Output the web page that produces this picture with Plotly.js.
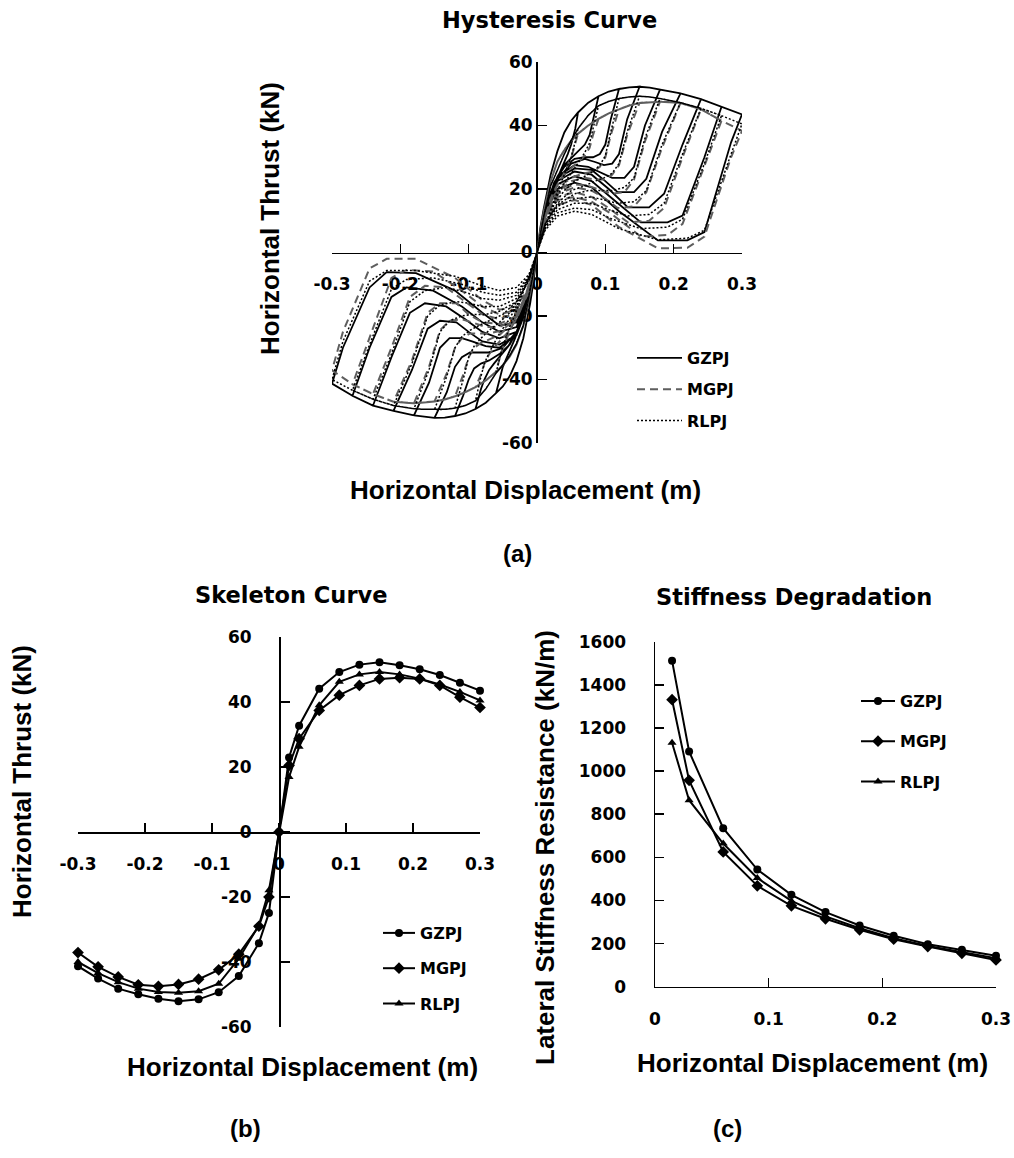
<!DOCTYPE html>
<html><head><meta charset="utf-8">
<script src="https://cdn.plot.ly/plotly-3.0.1.min.js"></script>
<style>html,body{margin:0;padding:0;background:#fff}#chart{width:1014px;height:1158px}</style>
</head><body><div id="chart"></div>
<script>
// ---------- series / labels ----------
const seriesNames = ['GZPJ', 'MGPJ', 'RLPJ'];

// ---------- skeleton curve (kN vs m) ----------
const skelX = [-0.30,-0.27,-0.24,-0.21,-0.18,-0.15,-0.12,-0.09,-0.06,-0.03,-0.015,0,0.015,0.03,0.06,0.09,0.12,0.15,0.18,0.21,0.24,0.27,0.30];
const gzpjSkel = [-41.3,-45.1,-48.2,-49.9,-51.3,-52.1,-51.5,-49.3,-44.3,-34.2,-24.9,0,22.9,32.7,44.1,49.2,51.5,52.2,51.3,50.1,48.3,45.9,43.5];
const mgpjSkel = [-37.1,-41.5,-44.6,-47.0,-47.5,-46.9,-45.3,-42.4,-37.6,-29.0,-20.0,0,20.5,28.7,37.4,42.1,45.1,47.1,47.5,47.1,45.1,41.5,38.3];
const rlpjSkel = [-40.0,-43.4,-46.2,-48.2,-49.2,-49.5,-49.0,-46.7,-39.0,-28.7,-17.9,0,16.9,26.2,39.0,46.2,48.5,49.2,48.5,47.2,45.4,43.1,40.5];

// ---------- stiffness degradation (kN/m) ----------
const stiffX = [0.015,0.03,0.06,0.09,0.12,0.15,0.18,0.21,0.24,0.27,0.30];
const gzpjStiff = [1512,1091,735,543,426,346,284,236,197,171,144];
const mgpjStiff = [1331,957,625,468,375,315,264,220,186,155,124];
const rlpjStiff = [1131,865,664,504,398,326,271,225,189,160,132];

// ---------- hysteresis: loading envelope (magnitude of displacement, m) ----------
const envX = [0,0.005,0.01,0.02,0.03,0.04,0.05,0.06,0.075,0.09,0.105,0.12,0.135,0.15,0.165,0.18,0.21,0.24,0.27,0.30];
const gzpjEnvPos = [0,8,14,24.5,32,37.8,41.5,44.1,47.2,49.2,50.7,51.5,52,52.2,51.9,51.3,50.1,48.3,45.9,43.5];
const gzpjEnvNeg = [0,-9,-16,-27,-34.2,-39,-42.2,-44.3,-47.3,-49.3,-50.7,-51.5,-52,-52.1,-51.8,-51.3,-49.9,-48.2,-45.1,-41.3];
const mgpjEnvPos = [0,7,13,22.5,28.7,32.3,35.2,37.4,40,42.1,43.8,45.1,46.3,47.1,47.4,47.5,47.1,45.1,41.5,38.3];
const mgpjEnvNeg = [0,-7,-13,-23,-29,-32.8,-35.5,-37.6,-40.3,-42.4,-44,-45.3,-46.3,-46.9,-47.3,-47.5,-47,-44.6,-41.5,-37.1];
const rlpjEnvPos = [0,6,11.5,21,26.2,31,35.3,39,43.2,46.2,47.6,48.5,49,49.2,49,48.5,47.2,45.4,43.1,40.5];
const rlpjEnvNeg = [0,-6,-12,-23,-28.7,-32.5,-35.5,-38,-43,-46.7,-48.2,-49,-49.4,-49.5,-49.4,-49.2,-48.2,-46.2,-43.4,-40];

// ---------- hysteresis: return branches ----------
// loop amplitudes (m); return path points listed from origin out to the amplitude
const loopAmps = [0.06,0.09,0.12,0.15,0.18,0.21,0.24,0.27,0.30];
const loopX = [
  [0,0.008,0.016,0.024,0.032,0.04,0.045,0.05,0.053,0.056,0.06],
  [0,0.01,0.02,0.03,0.042,0.055,0.063,0.07,0.077,0.082,0.09],
  [0,0.012,0.025,0.04,0.055,0.07,0.082,0.092,0.1,0.108,0.12],
  [0,0.012,0.03,0.05,0.07,0.085,0.098,0.11,0.12,0.132,0.15],
  [0,0.012,0.03,0.055,0.075,0.095,0.11,0.128,0.142,0.158,0.18],
  [0,0.012,0.03,0.055,0.08,0.1,0.118,0.142,0.16,0.183,0.21],
  [0,0.012,0.03,0.055,0.08,0.105,0.133,0.164,0.186,0.213,0.24],
  [0,0.012,0.03,0.055,0.08,0.11,0.152,0.191,0.213,0.245,0.27],
  [0,0.012,0.03,0.055,0.08,0.12,0.177,0.22,0.245,0.284,0.30]
];
const gzpjLoopPos = [
  [0,8,15,20.5,25,28.5,31,34,36.5,39,44.1],
  [0,11,19,24,28,31,32.5,34,37,41,49.2],
  [0,13,22,27,29.5,30,30,31,34,42,51.5],
  [0,14,23,28,29.5,28.5,27.5,28,31,42,52.2],
  [0,14.5,24,27.5,27,25,23.5,23.5,27,40,51.3],
  [0,14.5,23.5,26.5,26,22.5,19,19,23.2,38,50.1],
  [0,14,22.5,25.5,24.5,20,14.2,14.2,18.5,34,48.3],
  [0,13.5,21.5,24,22.5,17,9.5,9.5,11.6,30,45.9],
  [0,13,20,22,20.5,13,3.8,3.8,6.4,34.7,43.5]
];
const gzpjLoopNeg = [
  [0,-9,-16,-22,-27,-31,-33.5,-36,-38.5,-40.5,-44.3],
  [0,-12,-20,-25,-29.5,-33,-35,-37,-40,-43,-49.3],
  [0,-14,-23,-29,-32,-34,-35,-36.5,-40,-45,-51.5],
  [0,-15,-25,-30,-31.5,-31.5,-31.5,-33,-36,-44,-52.1],
  [0,-16,-26,-30,-29.5,-28,-27,-27,-30,-41,-51.3],
  [0,-16,-26,-29,-28,-25,-22,-21.5,-24,-37,-49.9],
  [0,-15,-25,-27,-25,-21,-17,-16,-19,-33,-48.2],
  [0,-14,-23.5,-25,-22,-17,-12,-11,-14,-30,-45.1],
  [0,-13,-22,-23,-19,-12,-6.5,-6.2,-11,-30,-41.3]
];
const mgpjLoopPos = [
  [0,8,14,18.5,22,25,27.5,30,32,34,37.4],
  [0,10,17,21.5,25,27.5,29,30.5,33,37,42.1],
  [0,11,18,22,24,25,25.5,27,30,37,45.1],
  [0,12,19,22.5,23.5,23,23,24.5,27.5,37,47.1],
  [0,12,19,21.5,21,19.5,18.5,19,23,35,47.5],
  [0,12,18.5,20.5,19.5,17,14,14.5,19,33,47.1],
  [0,11.5,17.5,19,17.5,14,9.5,10,14,30,45.1],
  [0,11,16.5,17.5,16,12,5,5.5,9,27,41.5],
  [0,10,15,16.5,15,8,1.3,1.5,5,30,38.3]
];
const mgpjLoopNeg = [
  [0,-7,-13,-17.5,-21.5,-25,-27.5,-30,-32,-34,-37.6],
  [0,-9,-16,-21,-25,-28,-30,-32,-35,-38.5,-42.4],
  [0,-11,-18.5,-23,-26,-27.5,-28.5,-30,-33,-38.5,-45.3],
  [0,-12,-20,-24.5,-25.5,-25.5,-25.5,-27,-30,-38,-46.9],
  [0,-12.5,-20.5,-23.5,-23.5,-22,-21,-21.5,-24.5,-36,-47.5],
  [0,-12.5,-20,-22.5,-22,-19.5,-16,-16,-19,-34,-47.0],
  [0,-12,-19,-21,-19.5,-15.5,-11,-10.5,-14,-30,-44.6],
  [0,-11.5,-18,-19.5,-17,-12,-6,-5.5,-8,-27,-41.5],
  [0,-11,-17,-18,-15,-8,-2,-2,-5,-25,-37.1]
];
const rlpjLoopPos = [
  [0,5.5,11,16,20.5,24.5,27.5,30,32.5,35,39],
  [0,7,13,18,22.5,26.5,29,31.5,34.5,39,46.2],
  [0,8.5,15,19.5,22.5,24,25.5,27.5,30.5,38,48.5],
  [0,9,15.5,19.5,21,22.5,23.5,25,28,38,49.2],
  [0,9,15,18.5,19.5,19.5,19.5,20.5,23.5,36,48.5],
  [0,8.5,14.5,17,17.5,16.5,15.5,16,19.5,34,47.2],
  [0,8,13.5,15.5,15.5,13.5,11.5,12,15.5,31,45.4],
  [0,7.5,12.5,14,13.5,10.5,7.5,8,10.5,28,43.1],
  [0,7,11.5,13,12,7.5,4,4.5,7,31,40.5]
];
const rlpjLoopNeg = [
  [0,-5,-10,-15,-19.5,-23.5,-26.5,-29.5,-32,-34.5,-38],
  [0,-6.5,-12,-17,-21.5,-25.5,-28.5,-31.5,-35,-39,-46.7],
  [0,-8,-14,-19,-22,-24.5,-27,-29.5,-33,-40,-49.0],
  [0,-9,-15.5,-19.5,-21.5,-23,-24.5,-26.5,-30,-39,-49.5],
  [0,-9,-15.5,-18.5,-19.5,-19.5,-20,-21.5,-25,-37,-49.2],
  [0,-8.5,-14.5,-17,-17,-16,-15.5,-16.5,-20,-35,-48.2],
  [0,-8,-13.5,-15,-14.5,-12.5,-11,-12,-15.5,-32,-46.2],
  [0,-7.5,-12.5,-13.5,-12.5,-10,-8,-8.5,-11.5,-29,-43.4],
  [0,-7,-11,-12,-10.5,-7.5,-5.7,-5.7,-9,-28,-40.0]
];

// ---------- tick labels ----------
const dispTicks = [-0.3,-0.2,-0.1,0,0.1,0.2,0.3];
const dispTickText = ['-0.3','-0.2','-0.1','0','0.1','0.2','0.3'];
const thrustTicks = [-60,-40,-20,0,20,40,60];
const thrustTickText = ['-60','-40','-20','0','20','40','60'];
const stiffXTicks = [0,0.1,0.2,0.3];
const stiffXTickText = ['0','0.1','0.2','0.3'];
const stiffYTicks = [0,200,400,600,800,1000,1200,1400,1600];
const stiffYTickText = ['0','200','400','600','800','1000','1200','1400','1600'];

// ---------- build hysteresis path: envelope out to each amplitude, return branch back ----------
function buildHyst(envPos, envNeg, pos, neg) {
  const xs = [], ys = [];
  for (let k = 0; k < loopAmps.length; k++) {
    const d = loopAmps[k] + 1e-9;
    for (let i = 0; i < envX.length && envX[i] <= d; i++) { xs.push(envX[i]); ys.push(envPos[i]); }
    for (let j = loopX[k].length - 2; j >= 0; j--) { xs.push(loopX[k][j]); ys.push(pos[k][j]); }
    for (let i = 0; i < envX.length && envX[i] <= d; i++) { xs.push(-envX[i]); ys.push(envNeg[i]); }
    for (let j = loopX[k].length - 2; j >= 0; j--) { xs.push(-loopX[k][j]); ys.push(neg[k][j]); }
  }
  return {xs, ys};
}
const hG = buildHyst(gzpjEnvPos, gzpjEnvNeg, gzpjLoopPos, gzpjLoopNeg);
const hM = buildHyst(mgpjEnvPos, mgpjEnvNeg, mgpjLoopPos, mgpjLoopNeg);
const hR = buildHyst(rlpjEnvPos, rlpjEnvNeg, rlpjLoopPos, rlpjLoopNeg);

const FT = 'DejaVu Sans';
const AR = 'Liberation Sans, Arial, sans-serif';

const traces = [
  {x: hG.xs, y: hG.ys, xaxis:'x', yaxis:'y', mode:'lines', name:seriesNames[0], legend:'legend', legendgroup:'h1',
   line:{color:'#000', width:1.8}},
  {x: hM.xs, y: hM.ys, xaxis:'x', yaxis:'y', mode:'lines', name:seriesNames[1], legend:'legend', legendgroup:'h2',
   line:{color:'#5e5e5e', width:2, dash:'8px,5px'}},
  {x: hR.xs, y: hR.ys, xaxis:'x', yaxis:'y', mode:'lines', name:seriesNames[2], legend:'legend', legendgroup:'h3',
   line:{color:'#000', width:1.5, dash:'2px,2px'}},

  {x: skelX, y: gzpjSkel, xaxis:'x2', yaxis:'y2', mode:'lines+markers', name:seriesNames[0], legend:'legend2', legendgroup:'s1',
   line:{color:'#000', width:2}, marker:{symbol:'circle', size:8, color:'#000'}, cliponaxis:false},
  {x: skelX, y: mgpjSkel, xaxis:'x2', yaxis:'y2', mode:'lines+markers', name:seriesNames[1], legend:'legend2', legendgroup:'s2',
   line:{color:'#000', width:2}, marker:{symbol:'diamond', size:9, color:'#000'}, cliponaxis:false},
  {x: skelX, y: rlpjSkel, xaxis:'x2', yaxis:'y2', mode:'lines+markers', name:seriesNames[2], legend:'legend2', legendgroup:'s3',
   line:{color:'#000', width:2}, marker:{symbol:'triangle-up', size:8, color:'#000'}, cliponaxis:false},

  {x: stiffX, y: gzpjStiff, xaxis:'x3', yaxis:'y3', mode:'lines+markers', name:seriesNames[0], legend:'legend3', legendgroup:'t1',
   line:{color:'#000', width:2}, marker:{symbol:'circle', size:8, color:'#000'}, cliponaxis:false},
  {x: stiffX, y: mgpjStiff, xaxis:'x3', yaxis:'y3', mode:'lines+markers', name:seriesNames[1], legend:'legend3', legendgroup:'t2',
   line:{color:'#000', width:2}, marker:{symbol:'diamond', size:9, color:'#000'}, cliponaxis:false},
  {x: stiffX, y: rlpjStiff, xaxis:'x3', yaxis:'y3', mode:'lines+markers', name:seriesNames[2], legend:'legend3', legendgroup:'t3',
   line:{color:'#000', width:2}, marker:{symbol:'triangle-up', size:8, color:'#000'}, cliponaxis:false}
];

function ax(extra) {
  return Object.assign({
    showgrid:false, zeroline:false, showline:true, linecolor:'#000', linewidth:1.5,
    ticks:'inside', ticklen:9, tickwidth:1.5, tickcolor:'#000', tickmode:'array',
    layer:'below traces', fixedrange:true,
    tickfont:{family:FT, size:17, color:'#000', weight:'bold'}
  }, extra);
}
const W = 1014, H = 1158;
const px = v => v / W, py = v => 1 - v / H;

function ann(text, x, y, size, family, angle) {
  return {text, x:px(x), y:py(y), xref:'paper', yref:'paper', showarrow:false, xanchor:'center', yanchor:'middle',
    textangle: angle || 0, font:{family, size, color:'#000', weight:'bold'}};
}
function leg(x, y, iw, gap) {
  return {x:px(x), y:py(y), xanchor:'left', yanchor:'top', bgcolor:'rgba(0,0,0,0)', borderwidth:0,
    itemwidth:iw, tracegroupgap:gap, traceorder:'grouped',
    font:{family:FT, size:16, color:'#000', weight:'bold'}};
}

const layout = {
  width:W, height:H, margin:{l:0, r:0, t:0, b:0}, paper_bgcolor:'#fff', plot_bgcolor:'#fff',
  showlegend:true,
  xaxis: ax({domain:[px(332), px(742)], range:[-0.3,0.3], anchor:'free', position:py(252.5),
    tickvals:dispTicks, ticktext:dispTickText, ticklabelstandoff:16}),
  yaxis: ax({domain:[py(443), py(62)], range:[-60,60], anchor:'free', position:px(536),
    tickvals:thrustTicks, ticktext:thrustTickText, ticklabelstandoff:24.5}),
  xaxis2: ax({domain:[px(78), px(480)], range:[-0.3,0.3], anchor:'free', position:py(832),
    tickvals:dispTicks, ticktext:dispTickText, ticklabelstandoff:16}),
  yaxis2: ax({domain:[py(1027), py(637)], range:[-60,60], anchor:'free', position:px(279),
    tickvals:thrustTicks, ticktext:thrustTickText, ticklabelstandoff:24}),
  xaxis3: ax({domain:[px(655), px(996)], range:[0,0.3], anchor:'y3',
    tickvals:stiffXTicks, ticktext:stiffXTickText, ticklabelstandoff:16}),
  yaxis3: ax({domain:[py(986.7), py(641.7)], range:[0,1600], anchor:'x3',
    tickvals:stiffYTicks, ticktext:stiffYTickText, ticklabelstandoff:24}),
  legend: leg(632, 341, 45, 7.5),
  legend2: leg(378, 916, 32, 11.5),
  legend3: leg(856, 684, 34, 16.5),
  annotations: [
    ann('Hysteresis Curve', 549, 20, 22.5, FT),
    ann('Skeleton Curve', 291, 595, 22.5, FT),
    ann('Stiffness Degradation', 794, 597, 22.5, FT),
    ann('Horizontal Displacement (m)', 525, 490, 26, AR),
    ann('Horizontal Thrust (kN)', 270, 219, 26, AR, -90),
    ann('Horizontal Displacement (m)', 302, 1067, 26, AR),
    ann('Horizontal Thrust (kN)', 22, 782, 26, AR, -90),
    ann('Horizontal Displacement (m)', 812, 1063, 26, AR),
    ann('Lateral Stiffness Resistance (kN/m)', 545, 848, 26, AR, -90),
    ann('(a)', 517, 553, 24, AR),
    ann('(b)', 245, 1128, 24, AR),
    ann('(c)', 727, 1128, 24, AR)
  ]
};

Plotly.newPlot('chart', traces, layout, {staticPlot:true, displayModeBar:false});
</script>
</body></html>
